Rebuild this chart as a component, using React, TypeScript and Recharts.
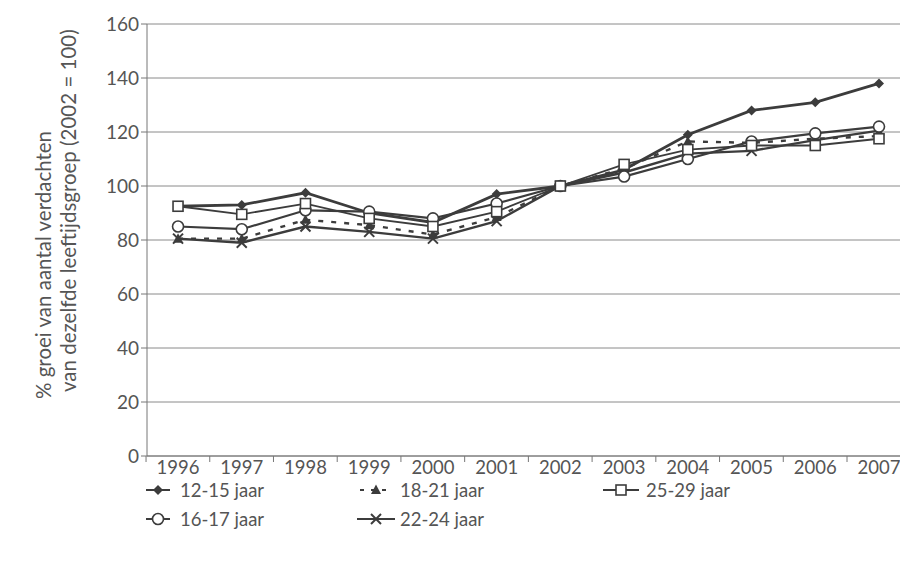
import React from 'react';
import { LineChart, Line, XAxis, YAxis, CartesianGrid, Legend } from 'recharts';

const YEARS = [1996, 1997, 1998, 1999, 2000, 2001, 2002, 2003, 2004, 2005, 2006, 2007];
const AGE_12_15 = [92.5, 93, 97.5, 90, 86.5, 97, 100, 106, 119, 128, 131, 138];
const AGE_16_17 = [85, 84, 91, 90.5, 88, 93.5, 100, 103.5, 110, 116.5, 119.5, 122];
const AGE_18_21 = [80.5, 80.5, 87.5, 85.5, 82, 88.5, 100, 106.5, 116.5, 116, 117.5, 118.5];
const AGE_22_24 = [80.5, 79, 85, 83, 80.5, 87, 100, 105, 112, 113, 117, 120.5];
const AGE_25_29 = [92.5, 89.5, 93.5, 88, 85, 90.5, 100, 108, 113.5, 115, 115, 117.5];
const Y_TICKS = [0, 20, 40, 60, 80, 100, 120, 140, 160];
const SERIES_NAMES = ['12-15 jaar', '16-17 jaar', '18-21 jaar', '22-24 jaar', '25-29 jaar'];
const Y_LABEL_1 = '% groei van aantal verdachten';
const Y_LABEL_2 = 'van dezelfde leeftijdsgroep (2002 = 100)';

const data = YEARS.map((year, i) => ({
  year,
  a: AGE_12_15[i],
  b: AGE_16_17[i],
  c: AGE_18_21[i],
  d: AGE_22_24[i],
  e: AGE_25_29[i],
}));

const INK = '#3c3c3c';
const TEXT = '#555';
const FONT = 'Lato, sans-serif';

type Kind = 'diamond' | 'circle' | 'triangle' | 'cross' | 'square';

function Marker({ kind, cx, cy }: { kind: Kind; cx: number; cy: number }) {
  if (kind === 'diamond') {
    return <polygon points={`${cx},${cy - 5} ${cx + 5},${cy} ${cx},${cy + 5} ${cx - 5},${cy}`} fill={INK} />;
  }
  if (kind === 'circle') {
    return <circle cx={cx} cy={cy} r={5.5} fill="#fff" stroke={INK} strokeWidth={1.6} />;
  }
  if (kind === 'triangle') {
    return <polygon points={`${cx},${cy - 5.5} ${cx + 5},${cy + 4} ${cx - 5},${cy + 4}`} fill={INK} />;
  }
  if (kind === 'cross') {
    return (
      <g stroke={INK} strokeWidth={2}>
        <line x1={cx - 5} y1={cy - 5} x2={cx + 5} y2={cy + 5} />
        <line x1={cx - 5} y1={cy + 5} x2={cx + 5} y2={cy - 5} />
      </g>
    );
  }
  return <rect x={cx - 5} y={cy - 5} width={10} height={10} fill="#fff" stroke={INK} strokeWidth={1.6} />;
}

const dotFor = (kind: Kind) => (props: any) => {
  const { cx, cy, index } = props;
  if (cx == null || cy == null) return <g key={`${kind}-${index}`} />;
  return <Marker key={`${kind}-${index}`} kind={kind} cx={cx} cy={cy} />;
};

function XTick(props: any) {
  const { x, y, payload } = props;
  return (
    <g>
      <line x1={x - 32} y1={y - 8} x2={x - 32} y2={y - 2} stroke="#777" strokeWidth={1} />
      <text x={x} y={y + 3} textAnchor="middle" dominantBaseline="central" fill={TEXT} fontSize={18.5} fontFamily={FONT}>
        {payload.value}
      </text>
    </g>
  );
}

function YLabel() {
  return (
    <g fill={TEXT} fontSize={20.5} fontFamily={FONT}>
      <text x={35} y={391} transform="rotate(-90 35 391)" textAnchor="start" dominantBaseline="central">
        {Y_LABEL_1}
      </text>
      <text x={60} y={384} transform="rotate(-90 60 384)" textAnchor="start" dominantBaseline="central">
        {Y_LABEL_2}
      </text>
    </g>
  );
}

const LEGEND_KINDS: Kind[] = ['diamond', 'circle', 'triangle', 'cross', 'square'];
const LEGEND_POS = [
  { sx: 138, sw: 24, tx: 172, ty: 12, dash: false },
  { sx: 138, sw: 24, tx: 172, ty: 41, dash: false },
  { sx: 352, sw: 32, tx: 392, ty: 12, dash: true },
  { sx: 349, sw: 38, tx: 392, ty: 41, dash: false },
  { sx: 595, sw: 36, tx: 638, ty: 12, dash: false },
];

function LegendContent() {
  return (
    <svg width={900} height={78} style={{ display: 'block' }}>
      {SERIES_NAMES.map((name, i) => {
        const p = LEGEND_POS[i];
        const mid = p.sx + p.sw / 2;
        return (
          <g key={name}>
            <line
              x1={p.sx}
              y1={p.ty}
              x2={p.sx + p.sw}
              y2={p.ty}
              stroke={INK}
              strokeWidth={2}
              strokeDasharray={p.dash ? '4 7' : undefined}
            />
            <Marker kind={LEGEND_KINDS[i]} cx={mid} cy={p.ty} />
            <text x={p.tx} y={p.ty} dominantBaseline="central" fill={TEXT} fontSize={18.5} fontFamily={FONT}>
              {name}
            </text>
          </g>
        );
      })}
    </svg>
  );
}

export default function App() {
  return (
    <div style={{ width: 900, height: 556, background: '#fff' }}>
      <LineChart width={900} height={556} data={data} margin={{ top: 16, right: 0, bottom: 0, left: 0 }}>
        <CartesianGrid vertical={false} stroke="#8a8a8a" strokeWidth={1} />
        <XAxis
          dataKey="year"
          type="number"
          domain={[1995.513, 2007.455]}
          ticks={YEARS}
          allowDataOverflow
          axisLine={{ stroke: '#777' }}
          tickLine={false}
          tick={<XTick />}
          height={30}
        />
        <YAxis
          domain={[0, 160]}
          ticks={Y_TICKS}
          width={139}
          axisLine={{ stroke: '#777' }}
          tickLine={{ stroke: '#777' }}
          tickSize={6}
          tick={{ fill: TEXT, fontSize: 19, fontFamily: FONT }}
          label={{ content: () => <YLabel /> }}
        />
        <Legend
          content={() => <LegendContent />}
          wrapperStyle={{ position: 'absolute', left: 0, top: 470, width: 900, height: 78 }}
        />
        <Line dataKey="a" name={SERIES_NAMES[0]} stroke={INK} strokeWidth={2.8} dot={dotFor('diamond')} isAnimationActive={false} />
        <Line dataKey="c" name={SERIES_NAMES[2]} stroke={INK} strokeWidth={2.4} strokeDasharray="5 8" dot={dotFor('triangle')} isAnimationActive={false} />
        <Line dataKey="d" name={SERIES_NAMES[3]} stroke={INK} strokeWidth={2.4} dot={dotFor('cross')} isAnimationActive={false} />
        <Line dataKey="b" name={SERIES_NAMES[1]} stroke={INK} strokeWidth={2.2} dot={dotFor('circle')} isAnimationActive={false} />
        <Line dataKey="e" name={SERIES_NAMES[4]} stroke={INK} strokeWidth={1.8} dot={dotFor('square')} isAnimationActive={false} />
      </LineChart>
    </div>
  );
}
